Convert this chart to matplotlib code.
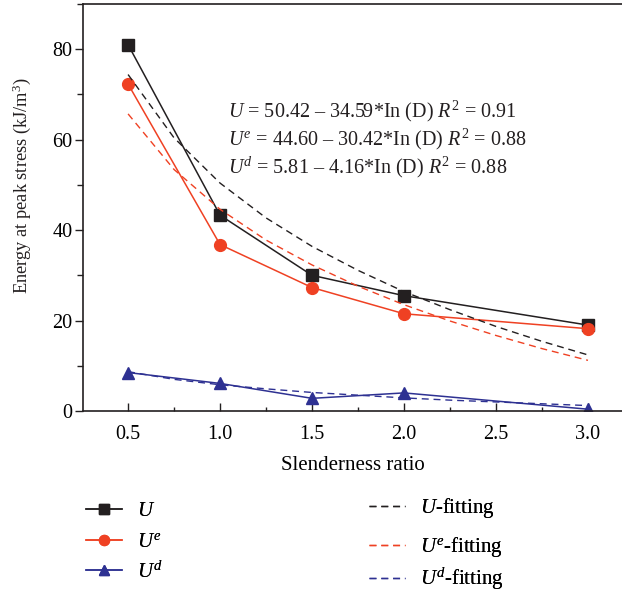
import matplotlib
matplotlib.use("Agg")
import matplotlib.pyplot as plt
from matplotlib.ticker import MultipleLocator

plt.rcParams['font.family'] = ['Liberation Serif', 'DejaVu Serif']
plt.rcParams['mathtext.fontset'] = 'custom'
plt.rcParams['mathtext.rm'] = 'Liberation Serif'
plt.rcParams['mathtext.it'] = 'Liberation Serif:italic'

# measured data
ratio = [0.5, 1.0, 1.5, 2.0, 3.0]
U = [81.0, 43.3, 30.0, 25.5, 19.0]
Ue = [72.3, 36.8, 27.3, 21.5, 18.2]
Ud = [8.5, 6.1, 2.8, 4.0, 0.4]

# fitting curves
fit_x = [0.5, 0.75, 1.0, 1.25, 1.5, 1.75, 2.0, 2.25, 2.5, 2.75, 3.0]
U_fit = [74.4, 60.4, 50.4, 42.7, 36.4, 31.1, 26.4, 22.4, 18.7, 15.4, 12.4]
Ue_fit = [65.7, 53.4, 44.6, 37.8, 32.3, 27.6, 23.5, 19.9, 16.7, 13.8, 11.2]
Ud_fit = [8.7, 7.0, 5.8, 4.9, 4.1, 3.5, 2.9, 2.4, 2.0, 1.6, 1.2]

equations = [
    r'$U$ = 50.42 – 34.59*In (D) $R^2$ = 0.91',
    r'$U^e$ = 44.60 – 30.42*In (D) $R^2$ = 0.88',
    r'$U^d$ = 5.81 – 4.16*In (D) $R^2$ = 0.88',
]

BLACK = '#231f20'
RED = '#ef4123'
BLUE = '#2e3192'

W, H = 622, 599
fig = plt.figure(figsize=(W / 100, H / 100), dpi=100)
ax = fig.add_axes([83 / W, 1 - 411 / H, (W - 83) / W, (411 - 4) / H])

dash = (5, 3.5)
l1, = ax.plot(ratio, U, color=BLACK, lw=1.1, marker='s', ms=8, label=r'$U$')
l2, = ax.plot(ratio, Ue, color=RED, lw=1.1, marker='o', ms=8.5, label=r'$U^e$')
l3, = ax.plot(ratio, Ud, color=BLUE, lw=1.1, marker='^', ms=8, label=r'$U^d$')
f1, = ax.plot(fit_x, U_fit, color=BLACK, lw=1.0, ls=(0, dash), label=r'$U$-fitting')
f2, = ax.plot(fit_x, Ue_fit, color=RED, lw=1.0, ls=(0, dash), label=r'$U^e$-fitting')
f3, = ax.plot(fit_x, Ud_fit, color=BLUE, lw=1.0, ls=(0, dash), label=r'$U^d$-fitting')

ax.set_xlim(0.255, 3.185)
ax.set_ylim(0, 90)
ax.xaxis.set_major_locator(MultipleLocator(0.5))
ax.xaxis.set_minor_locator(MultipleLocator(0.25))
ax.yaxis.set_major_locator(MultipleLocator(20))
ax.yaxis.set_minor_locator(MultipleLocator(10))
ax.tick_params(axis='x', which='both', direction='in', labelsize=14.5, pad=10)
ax.tick_params(axis='x', which='major', length=5.5, width=1.0, color=BLACK)
ax.tick_params(axis='x', which='minor', length=3, width=1.0, color=BLACK)
ax.tick_params(axis='y', which='both', direction='out', labelsize=14.5, pad=1.5)
ax.tick_params(axis='y', which='major', length=6, width=1.0, color=BLACK)
ax.tick_params(axis='y', which='minor', length=4, width=1.0, color=BLACK)
ax.spines['right'].set_visible(False)
for s in ['left', 'bottom', 'top']:
    ax.spines[s].set_linewidth(1.2)
    ax.spines[s].set_color(BLACK)

ax.set_xlabel('Slenderness ratio', fontsize=15, labelpad=9)
fig.text(22 / W, 1 - 186 / H, r'Energy at peak stress (kJ/m$^3$)', fontsize=13.2,
         rotation=90, ha='center', va='center', color=BLACK)

for i, eq in enumerate(equations):
    fig.text(228 / W, 1 - (111 + 28 * i) / H, eq, fontsize=14.5, va='center', ha='left',
             color=BLACK)

fs = 15
hl = 36 / (fs * 100 / 72)
htp = 15 / (fs * 100 / 72)
entries = [(l1, 86, 511), (l2, 86, 542), (l3, 86, 572),
           (f1, 369, 508), (f2, 369, 547), (f3, 369, 579)]
for h, x, y in entries:
    leg = fig.legend(handles=[h], loc='center left', bbox_to_anchor=(x / W, 1 - y / H),
                     frameon=False, fontsize=fs, handlelength=hl, handletextpad=htp,
                     borderpad=0, borderaxespad=0, markerscale=0.85)
    fig.add_artist(leg)

fig.savefig('out.png', dpi=100)
